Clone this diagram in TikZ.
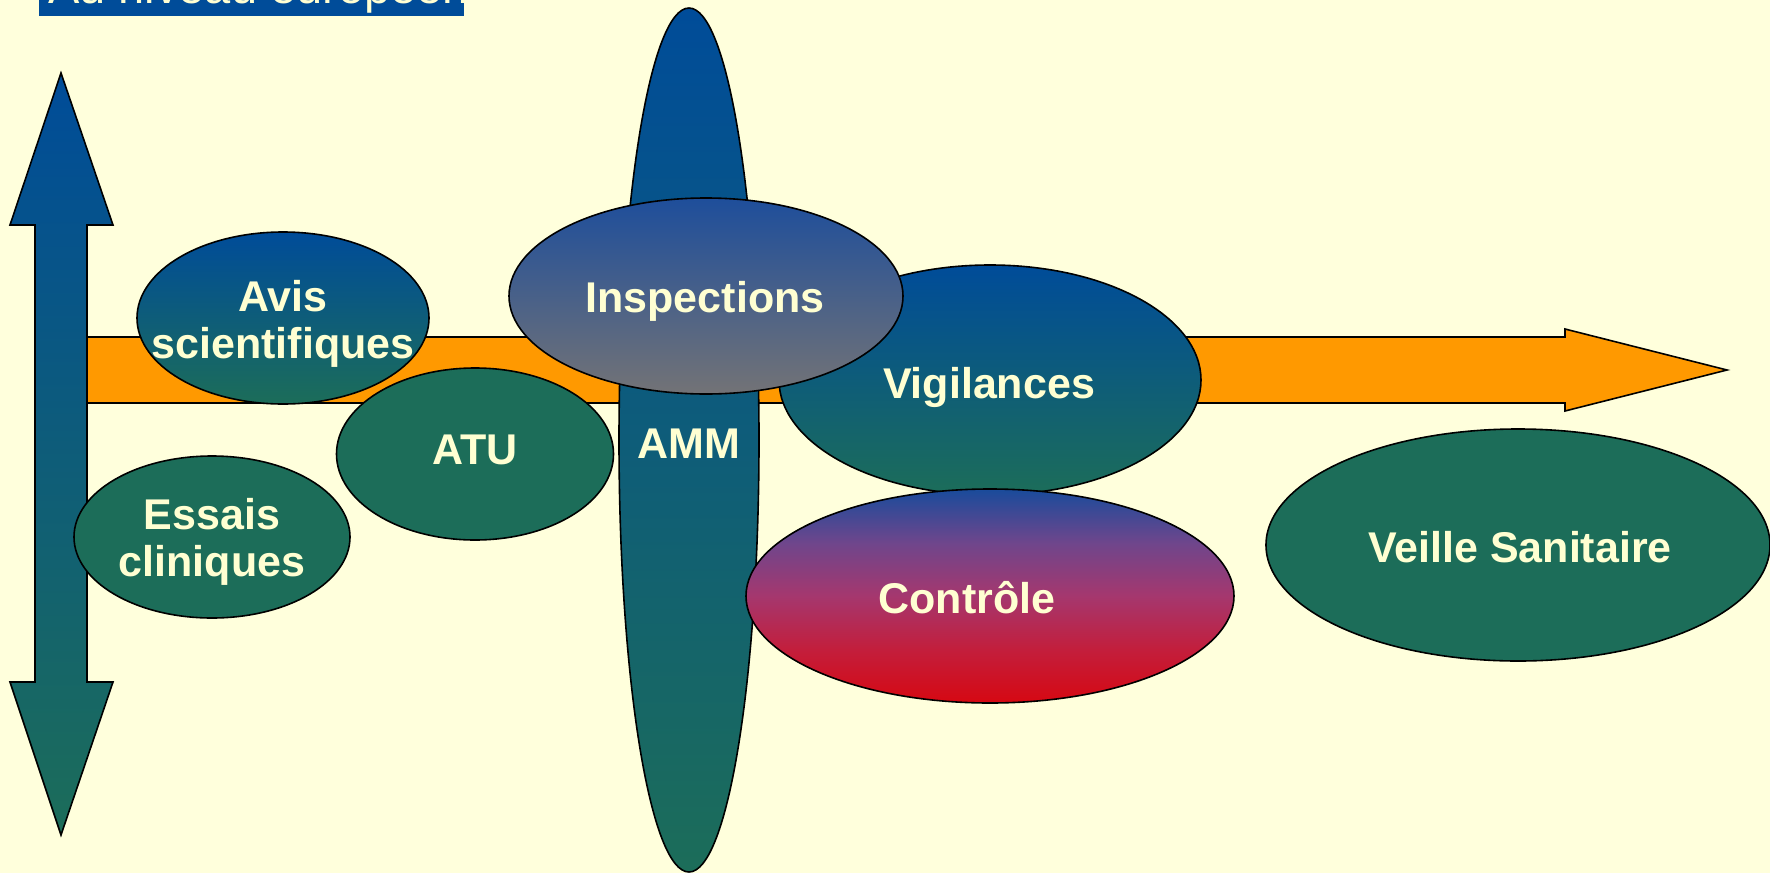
\documentclass[tikz,border=0pt]{standalone}
\usepackage{fontspec}
\setmainfont{Liberation Sans}
\usetikzlibrary{shapes.geometric}
\definecolor{bg}{RGB}{255,255,220}
\definecolor{myblue}{RGB}{0,76,153}
\definecolor{mygreen}{RGB}{28,109,89}
\definecolor{myorange}{RGB}{255,153,0}
\definecolor{cream}{RGB}{255,255,210}
\definecolor{inspblue}{RGB}{30,78,155}
\definecolor{inspgray}{RGB}{115,115,118}
\definecolor{ctrlblue}{RGB}{25,75,155}
\definecolor{ctrlupper}{RGB}{110,70,140}
\definecolor{ctrlmid}{RGB}{165,55,110}
\definecolor{ctrllower}{RGB}{195,30,60}
\definecolor{ctrlred}{RGB}{214,8,18}
\pgfdeclareverticalshading{ctrlshade}{100bp}{color(0bp)=(ctrlred); color(25bp)=(ctrlred); color(37.5bp)=(ctrllower); color(50bp)=(ctrlmid); color(62.5bp)=(ctrlupper); color(75bp)=(ctrlblue); color(100bp)=(ctrlblue)}
\begin{document}
\begin{tikzpicture}[x=1pt,y=1pt,
  outline/.style={draw=black, line width=1.6pt, line join=miter},
  bubble/.style={ellipse, outline, inner sep=0pt},
  lbl/.style={text=cream, font=\bfseries\fontsize{43}{47}\selectfont, align=center, inner sep=0pt},
  bluegreen/.style={top color=myblue, bottom color=mygreen},
  solidgreen/.style={fill=mygreen}]
\useasboundingbox (0,0) rectangle (1770,-873);
\fill[bg] (0,0) rectangle (1770,-873);
\begin{scope}
\clip (0,0) rectangle (1770,-873);
% title banner
\fill[myblue] (39,0) rectangle (464,-16);
\node[anchor=base west, text=cream, font=\fontsize{47}{50}\selectfont, inner sep=0pt] (title) at (48,-3) {Au niveau européen};
% horizontal orange arrow
\draw[outline, fill=myorange] (80,-337) -- (1565,-337) -- (1565,-329) -- (1727,-370) -- (1565,-411) -- (1565,-403) -- (80,-403) -- cycle;
% vertical double arrow
\draw[outline, bluegreen] (61,-73) -- (113,-225) -- (87,-225) -- (87,-682) -- (113,-682) -- (61,-835) -- (10,-682) -- (35,-682) -- (35,-225) -- (10,-225) -- cycle;
% ellipses
\node[bubble, solidgreen, minimum width=276pt, minimum height=162pt] (essais) at (212,-537) {};
\node[bubble, top color=myblue, middle color=mygreen!85!myblue, bottom color=mygreen, minimum width=292pt, minimum height=172pt] (avis) at (283,-318) {};
\node[bubble, solidgreen, minimum width=277pt, minimum height=172pt] (atu) at (475,-454) {};
\node[bubble, bluegreen, minimum width=140pt, minimum height=864pt] (amm) at (689,-440) {};
\node[bubble, bluegreen, minimum width=422pt, minimum height=230pt] (vig) at (990,-380) {};
\node[bubble, top color=inspblue, bottom color=inspgray, minimum width=394pt, minimum height=196pt] (insp) at (706,-296) {};
\node[bubble, shading=ctrlshade, minimum width=488pt, minimum height=214pt] (ctrl) at (990,-596) {};
\node[bubble, solidgreen, minimum width=504pt, minimum height=232pt] (veille) at (1518,-545) {};
% labels
\node[lbl] (avist) at ([yshift=-6pt]avis.center) {Avis\\scientifiques};
\node[lbl] (essaist) at ([yshift=-5pt]essais.center) {Essais\\cliniques};
\node[lbl] (atut) at ([yshift=4pt]atu.center) {ATU};
\node[lbl] (ammt) at ([yshift=-4pt]amm.center) {AMM};
\node[lbl] (vigt) at ([xshift=-1pt,yshift=-7pt]vig.center) {Vigilances};
\node[lbl] (inspt) at ([xshift=-1pt,yshift=-5pt]insp.center) {Inspections};
\node[lbl] (ctrlt) at ([xshift=-23pt,yshift=-2pt]ctrl.center) {Contrôle};
\node[lbl] (veillet) at ([xshift=2pt,yshift=-2pt]veille.center) {Veille Sanitaire};
\end{scope}
\end{tikzpicture}
\end{document}
